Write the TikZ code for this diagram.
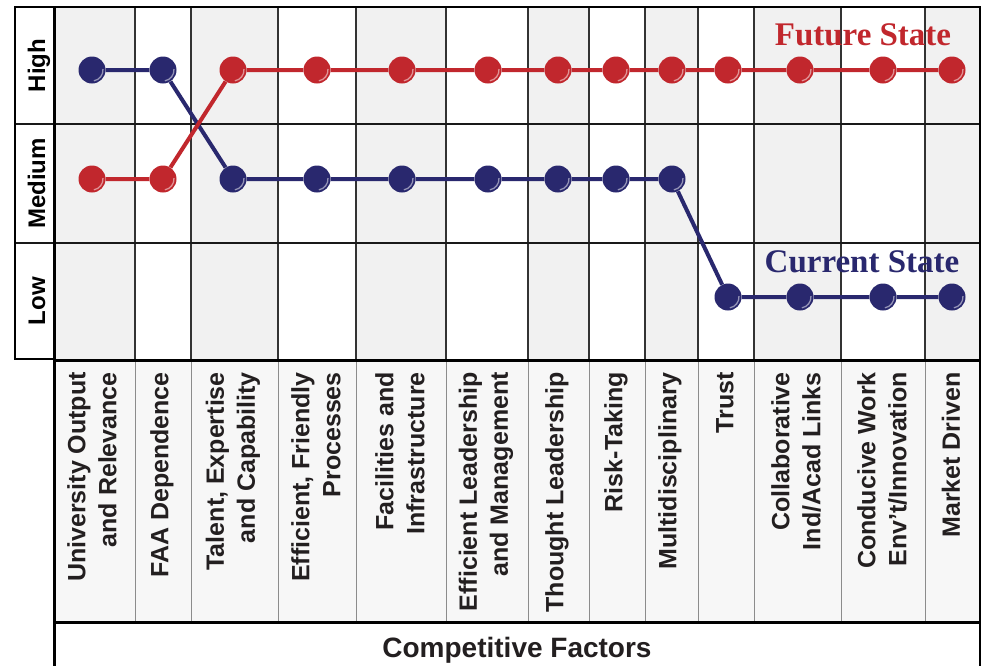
\documentclass[tikz,border=0pt]{standalone}
\usepackage{fontspec}
\setmainfont{Liberation Sans}
\newfontfamily\serifb{Liberation Serif}
\definecolor{fred}{HTML}{C1272D}
\definecolor{fblue}{HTML}{29286E}
\definecolor{cellgray}{HTML}{F1F1F1}
\definecolor{labgray}{HTML}{F7F7F7}
\definecolor{txt}{HTML}{231F20}
\tikzset{
  dot/.style={circle, minimum size=27pt, inner sep=0pt, fill=#1,
    path picture={\draw[white, opacity=.5, line width=1.3pt]
      ([shift={(-80:11pt)}]path picture bounding box.center)
      arc[start angle=-80, end angle=5, radius=11pt];}},
  conn/.style={line width=4pt, #1},
  gridline/.style={line width=1.1pt, black!80},
  labline/.style={line width=0.9pt, black!45},
  rowline/.style={line width=2pt, black!90},
  frameline/.style={line width=3pt, black},
  rowlab/.style={rotate=90, anchor=base, font=\bfseries\fontsize{24}{28}\selectfont, text=black, inner sep=0pt},
  collab/.style={rotate=90, anchor=east, align=right, font=\bfseries\fontsize{25}{31}\selectfont, text=txt, inner sep=0pt},
  statelab/.style={anchor=base, font=\serifb\bfseries\fontsize{33}{36}\selectfont, text=#1, inner sep=0pt}
}
\begin{document}
\begin{tikzpicture}[x=1pt,y=-1pt]
\useasboundingbox (0,0) rectangle (983,665);
\fill[white] (0,0) rectangle (983,665);
% shading
\foreach \a/\b in {54/135,191/278,356/446,528/589,645/698,754/841,925/980}
  \fill[cellgray] (\a,7) rectangle (\b,360);
\fill[labgray] (54,360) rectangle (980,622);
% grid
\foreach \x in {135,191,278,356,446,528,589,645,698,754,841,925}
  {\draw[gridline] (\x,7) -- (\x,360);
   \draw[labline] (\x,360) -- (\x,622);}
\draw[rowline] (15,124) -- (980,124);
\draw[rowline] (15,243) -- (980,243);
\draw[line width=1.2pt] (15,7) rectangle (54,359);
\draw[line width=2.5pt] (15,7) -- (981,7);
\draw[frameline] (54,6) -- (54,666);
\draw[line width=2pt] (980,6) -- (980,666);
\draw[frameline] (54,360) -- (980,360);
\draw[frameline] (54,622) -- (980,622);
% row labels
\node[rowlab] (lh) at (45,65.5) {High};
\node[rowlab] (lm) at (45,183.5) {Medium};
\node[rowlab] (ll) at (45,301) {Low};
% column labels
\node[collab] (c1) at (92,372) {University Output\\and Relevance};
\node[collab] (c2) at (162,372) {FAA Dependence};
\node[collab] (c3) at (233,372) {Talent, Expertise\\and Capability};
\node[collab] (c4) at (316,372) {Efficient, Friendly\\Processes};
\node[collab] (c5) at (400,372) {Facilities and\\Infrastructure};
\node[collab] (c6) at (486,372) {Efficient Leadership\\and Management};
\node[collab] (c7) at (557,372) {Thought Leadership};
\node[collab] (c8) at (616,372) {Risk-Taking};
\node[collab] (c9) at (670,372) {Multidisciplinary};
\node[collab] (c10) at (725,372) {Trust};
\node[collab] (c11) at (796,372) {Collaborative\\Ind/Acad Links};
\node[collab] (c12) at (882,372) {Conducive Work\\Env’t/Innovation};
\node[collab] (c13) at (951,372) {Market Driven};
\node[anchor=base, font=\bfseries\fontsize{28}{30}\selectfont, text=txt, inner sep=0pt] (cf) at (517,657) {Competitive Factors};
% dots
\foreach \i/\x/\yr/\yb in {1/92/179/70, 2/163/179/70, 3/233/70/179, 4/317/70/179, 5/402/70/179,
  6/488/70/179, 7/558/70/179, 8/616/70/179, 9/672/70/179, 10/728/70/297, 11/800/70/297,
  12/883/70/297, 13/952/70/297}
  {\node[dot=fred] (r\i) at (\x,\yr) {};
   \node[dot=fblue] (b\i) at (\x,\yb) {};}
% connectors
\draw[conn=fblue] (b1) -- (b2) -- (b3) -- (b4) -- (b5) -- (b6) -- (b7) -- (b8) -- (b9) -- (b10) -- (b11) -- (b12) -- (b13);
\draw[conn=fred] (r1) -- (r2) -- (r3) -- (r4) -- (r5) -- (r6) -- (r7) -- (r8) -- (r9) -- (r10) -- (r11) -- (r12) -- (r13);
% state labels
\node[statelab=fred] (fs) at (863,45) {Future State};
\node[statelab=fblue] (cs) at (862,272) {Current State};
\end{tikzpicture}
\end{document}
